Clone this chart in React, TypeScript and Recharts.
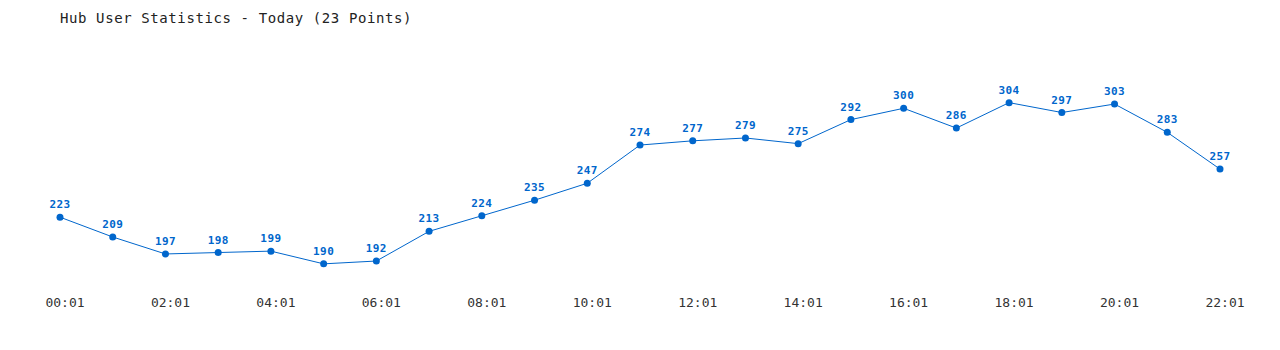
import React from 'react';
import { LineChart, Line, XAxis, YAxis, LabelList } from 'recharts';

const hours = [
  '00:01', '01:01', '02:01', '03:01', '04:01', '05:01', '06:01', '07:01',
  '08:01', '09:01', '10:01', '11:01', '12:01', '13:01', '14:01', '15:01',
  '16:01', '17:01', '18:01', '19:01', '20:01', '21:01', '22:01',
];
const users = [
  223, 209, 197, 198, 199, 190, 192, 213, 224, 235, 247, 274,
  277, 279, 275, 292, 300, 286, 304, 297, 303, 283, 257,
];
const shownTicks = ['00:01', '02:01', '04:01', '06:01', '08:01', '10:01', '12:01', '14:01', '16:01', '18:01', '20:01', '22:01'];

const data = hours.map((time, i) => ({ time, users: users[i] }));

const mono = '"DejaVu Sans Mono", "Liberation Mono", monospace';
const blue = '#0066cc';

const ValueLabel = (props: any) => {
  const { x, y, value } = props;
  return (
    <text x={x} y={y - 9} textAnchor="middle" fill={blue} fontFamily={mono}
      fontSize={11} fontWeight="bold" letterSpacing={0.4}>
      {value}
    </text>
  );
};

const App: React.FC = () => {
  return (
    <div style={{ position: 'fixed', left: 0, top: 0, width: 1280, height: 350, background: '#fff' }}>
      <div style={{
        position: 'absolute', left: 60, top: 9, fontFamily: mono, fontSize: 14,
        letterSpacing: 0.6, color: '#222', whiteSpace: 'nowrap', lineHeight: '18px',
      }}>
        Hub User Statistics - Today (23 Points)
      </div>
      <LineChart width={1280} height={350} data={data}
        margin={{ top: 80, right: 60, left: 60, bottom: 42 }}>
        <XAxis dataKey="time" ticks={shownTicks} interval={0} axisLine={false} tickLine={false}
          height={30} tickMargin={14}
          tick={{ fontFamily: mono, fontSize: 13, fill: '#333', dx: 5 }} />
        <YAxis hide domain={[180, 320]} />
        <Line type="linear" dataKey="users" stroke={blue} strokeWidth={1}
          dot={{ r: 3.5, fill: blue, stroke: blue, strokeWidth: 0 }}
          isAnimationActive={false}>
          <LabelList dataKey="users" content={ValueLabel} />
        </Line>
      </LineChart>
    </div>
  );
};

export default App;
